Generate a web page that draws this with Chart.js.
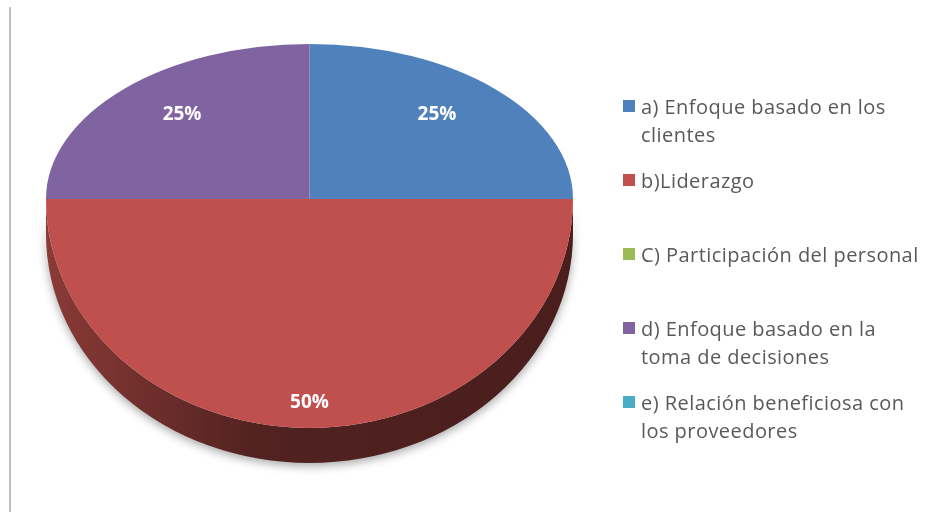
<!DOCTYPE html>
<html lang="es">
<head>
    <meta charset="UTF-8">
    <title>Principios de gestión</title>
    <style>
        body {
            margin: 0;
            padding: 0;
            background-color: #ffffff;
            font-family: "Open Sans", sans-serif;
        }
        .wrap {
            position: relative;
            width: 932px;
            height: 518px;
        }
        canvas {
            position: absolute;
            left: 0;
            top: 0;
        }
        #legend {
            position: absolute;
            left: 623px;
            top: 93px;
            width: 305px;
        }
        .item {
            position: relative;
            height: 74px;
        }
        .item .box {
            position: absolute;
            left: 0;
            top: 7px;
            width: 12px;
            height: 12px;
        }
        .item .txt {
            margin-left: 18px;
            width: 287px;
            font-size: 20px;
            letter-spacing: 0.45px;
            line-height: 28px;
            color: #595959;
        }
    </style>
</head>
<body>
    <div class="wrap">
        <canvas id="pieCanvas" width="932" height="518"></canvas>
        <div id="legend"></div>
    </div>

    <script src="https://cdn.jsdelivr.net/npm/chart.js"></script>
    <script>
        // data
        const categories = [
            'a) Enfoque basado en los clientes',
            'b)Liderazgo',
            'C) Participación del personal',
            'd) Enfoque basado en la toma de decisiones',
            'e) Relación beneficiosa con los proveedores'
        ];
        const values = [25, 50, 0, 25, 0];
        const colors = ['#4F81BD', '#C0504D', '#9BBB59', '#8064A2', '#4BACC6'];

        // 3d look of the pie (screen geometry)
        const pie3d = {
            cx: 309.5,
            cy: 199,
            r: 263.5,
            ryTop: 155,
            ryBottom: 229,
            depth: 35
        };

        function shade(hex, f) {
            const n = parseInt(hex.slice(1), 16);
            const r = Math.round(((n >> 16) & 255) * f);
            const g = Math.round(((n >> 8) & 255) * f);
            const b = Math.round((n & 255) * f);
            return 'rgb(' + r + ',' + g + ',' + b + ')';
        }

        const pie3dPlugin = {
            id: 'pie3d',
            beforeDatasetDraw(chart) {
                const ctx = chart.ctx;
                const meta = chart.getDatasetMeta(0);
                const p = pie3d;

                // side walls of the front half
                meta.data.forEach(function (arc, i) {
                    if (!values[i]) return;
                    let a0 = Math.max(arc.startAngle, 0);
                    let a1 = Math.min(arc.endAngle, Math.PI);
                    if (a1 <= a0) return;
                    const grad = ctx.createLinearGradient(p.cx - p.r, 0, p.cx + p.r, 0);
                    grad.addColorStop(0, shade(colors[i], 0.72));
                    grad.addColorStop(0.4, shade(colors[i], 0.42));
                    grad.addColorStop(1, shade(colors[i], 0.38));
                    ctx.save();
                    ctx.shadowColor = 'rgba(0,0,0,0.35)';
                    ctx.shadowBlur = 10;
                    ctx.shadowOffsetY = 3;
                    ctx.beginPath();
                    ctx.ellipse(p.cx, p.cy, p.r, p.ryBottom, 0, a0, a1, false);
                    ctx.ellipse(p.cx, p.cy + p.depth, p.r, p.ryBottom, 0, a1, a0, true);
                    ctx.closePath();
                    ctx.fillStyle = grad;
                    ctx.fill();
                    ctx.restore();
                });

                // top faces, back half flatter than front half
                const halves = [
                    { y0: 0, y1: p.cy, ry: p.ryTop },
                    { y0: p.cy, y1: chart.height, ry: p.ryBottom }
                ];
                meta.data.forEach(function (arc) {
                    halves.forEach(function (h) {
                        ctx.save();
                        ctx.beginPath();
                        ctx.rect(0, h.y0, chart.width, h.y1 - h.y0);
                        ctx.clip();
                        ctx.translate(p.cx, p.cy);
                        ctx.scale(p.r / arc.outerRadius, h.ry / arc.outerRadius);
                        ctx.translate(-arc.x, -arc.y);
                        arc.draw(ctx);
                        ctx.restore();
                    });
                });
                return false;
            },
            afterDatasetsDraw(chart) {
                const ctx = chart.ctx;
                const meta = chart.getDatasetMeta(0);
                const p = pie3d;
                const total = values.reduce(function (a, b) { return a + b; }, 0);

                // percentage labels
                ctx.save();
                ctx.font = 'bold 19px "Open Sans"';
                ctx.fillStyle = '#ffffff';
                ctx.textAlign = 'center';
                ctx.textBaseline = 'middle';
                meta.data.forEach(function (arc, i) {
                    if (!values[i]) return;
                    const mid = (arc.startAngle + arc.endAngle) / 2;
                    const front = Math.sin(mid) > 0;
                    const x = p.cx + Math.cos(mid) * p.r * 0.684;
                    const y = p.cy + Math.sin(mid) * (front ? p.ryBottom * 0.89 : p.ryTop * 0.77);
                    ctx.fillText(Math.round(values[i] / total * 100) + '%', x, y);
                });
                ctx.restore();

                // thin frame line on the left
                ctx.save();
                ctx.strokeStyle = '#BFBFBF';
                ctx.lineWidth = 2;
                ctx.beginPath();
                ctx.moveTo(10, 7);
                ctx.lineTo(10, 512);
                ctx.stroke();
                ctx.restore();
            }
        };

        const ctx = document.getElementById('pieCanvas').getContext('2d');
        const chart = new Chart(ctx, {
            type: 'pie',
            data: {
                labels: categories,
                datasets: [{
                    data: values,
                    backgroundColor: colors,
                    borderWidth: 0
                }]
            },
            options: {
                responsive: false,
                animation: false,
                devicePixelRatio: 1,
                layout: { padding: { left: 48, right: 360, top: 0, bottom: 0 } },
                plugins: {
                    legend: { display: false },
                    tooltip: { enabled: false }
                }
            },
            plugins: [pie3dPlugin]
        });

        // legend on the right
        const legend = document.getElementById('legend');
        categories.forEach(function (name, i) {
            const item = document.createElement('div');
            item.className = 'item';
            const box = document.createElement('div');
            box.className = 'box';
            box.style.backgroundColor = colors[i];
            const txt = document.createElement('div');
            txt.className = 'txt';
            txt.textContent = name;
            item.appendChild(box);
            item.appendChild(txt);
            legend.appendChild(item);
        });
    </script>
</body>
</html>
